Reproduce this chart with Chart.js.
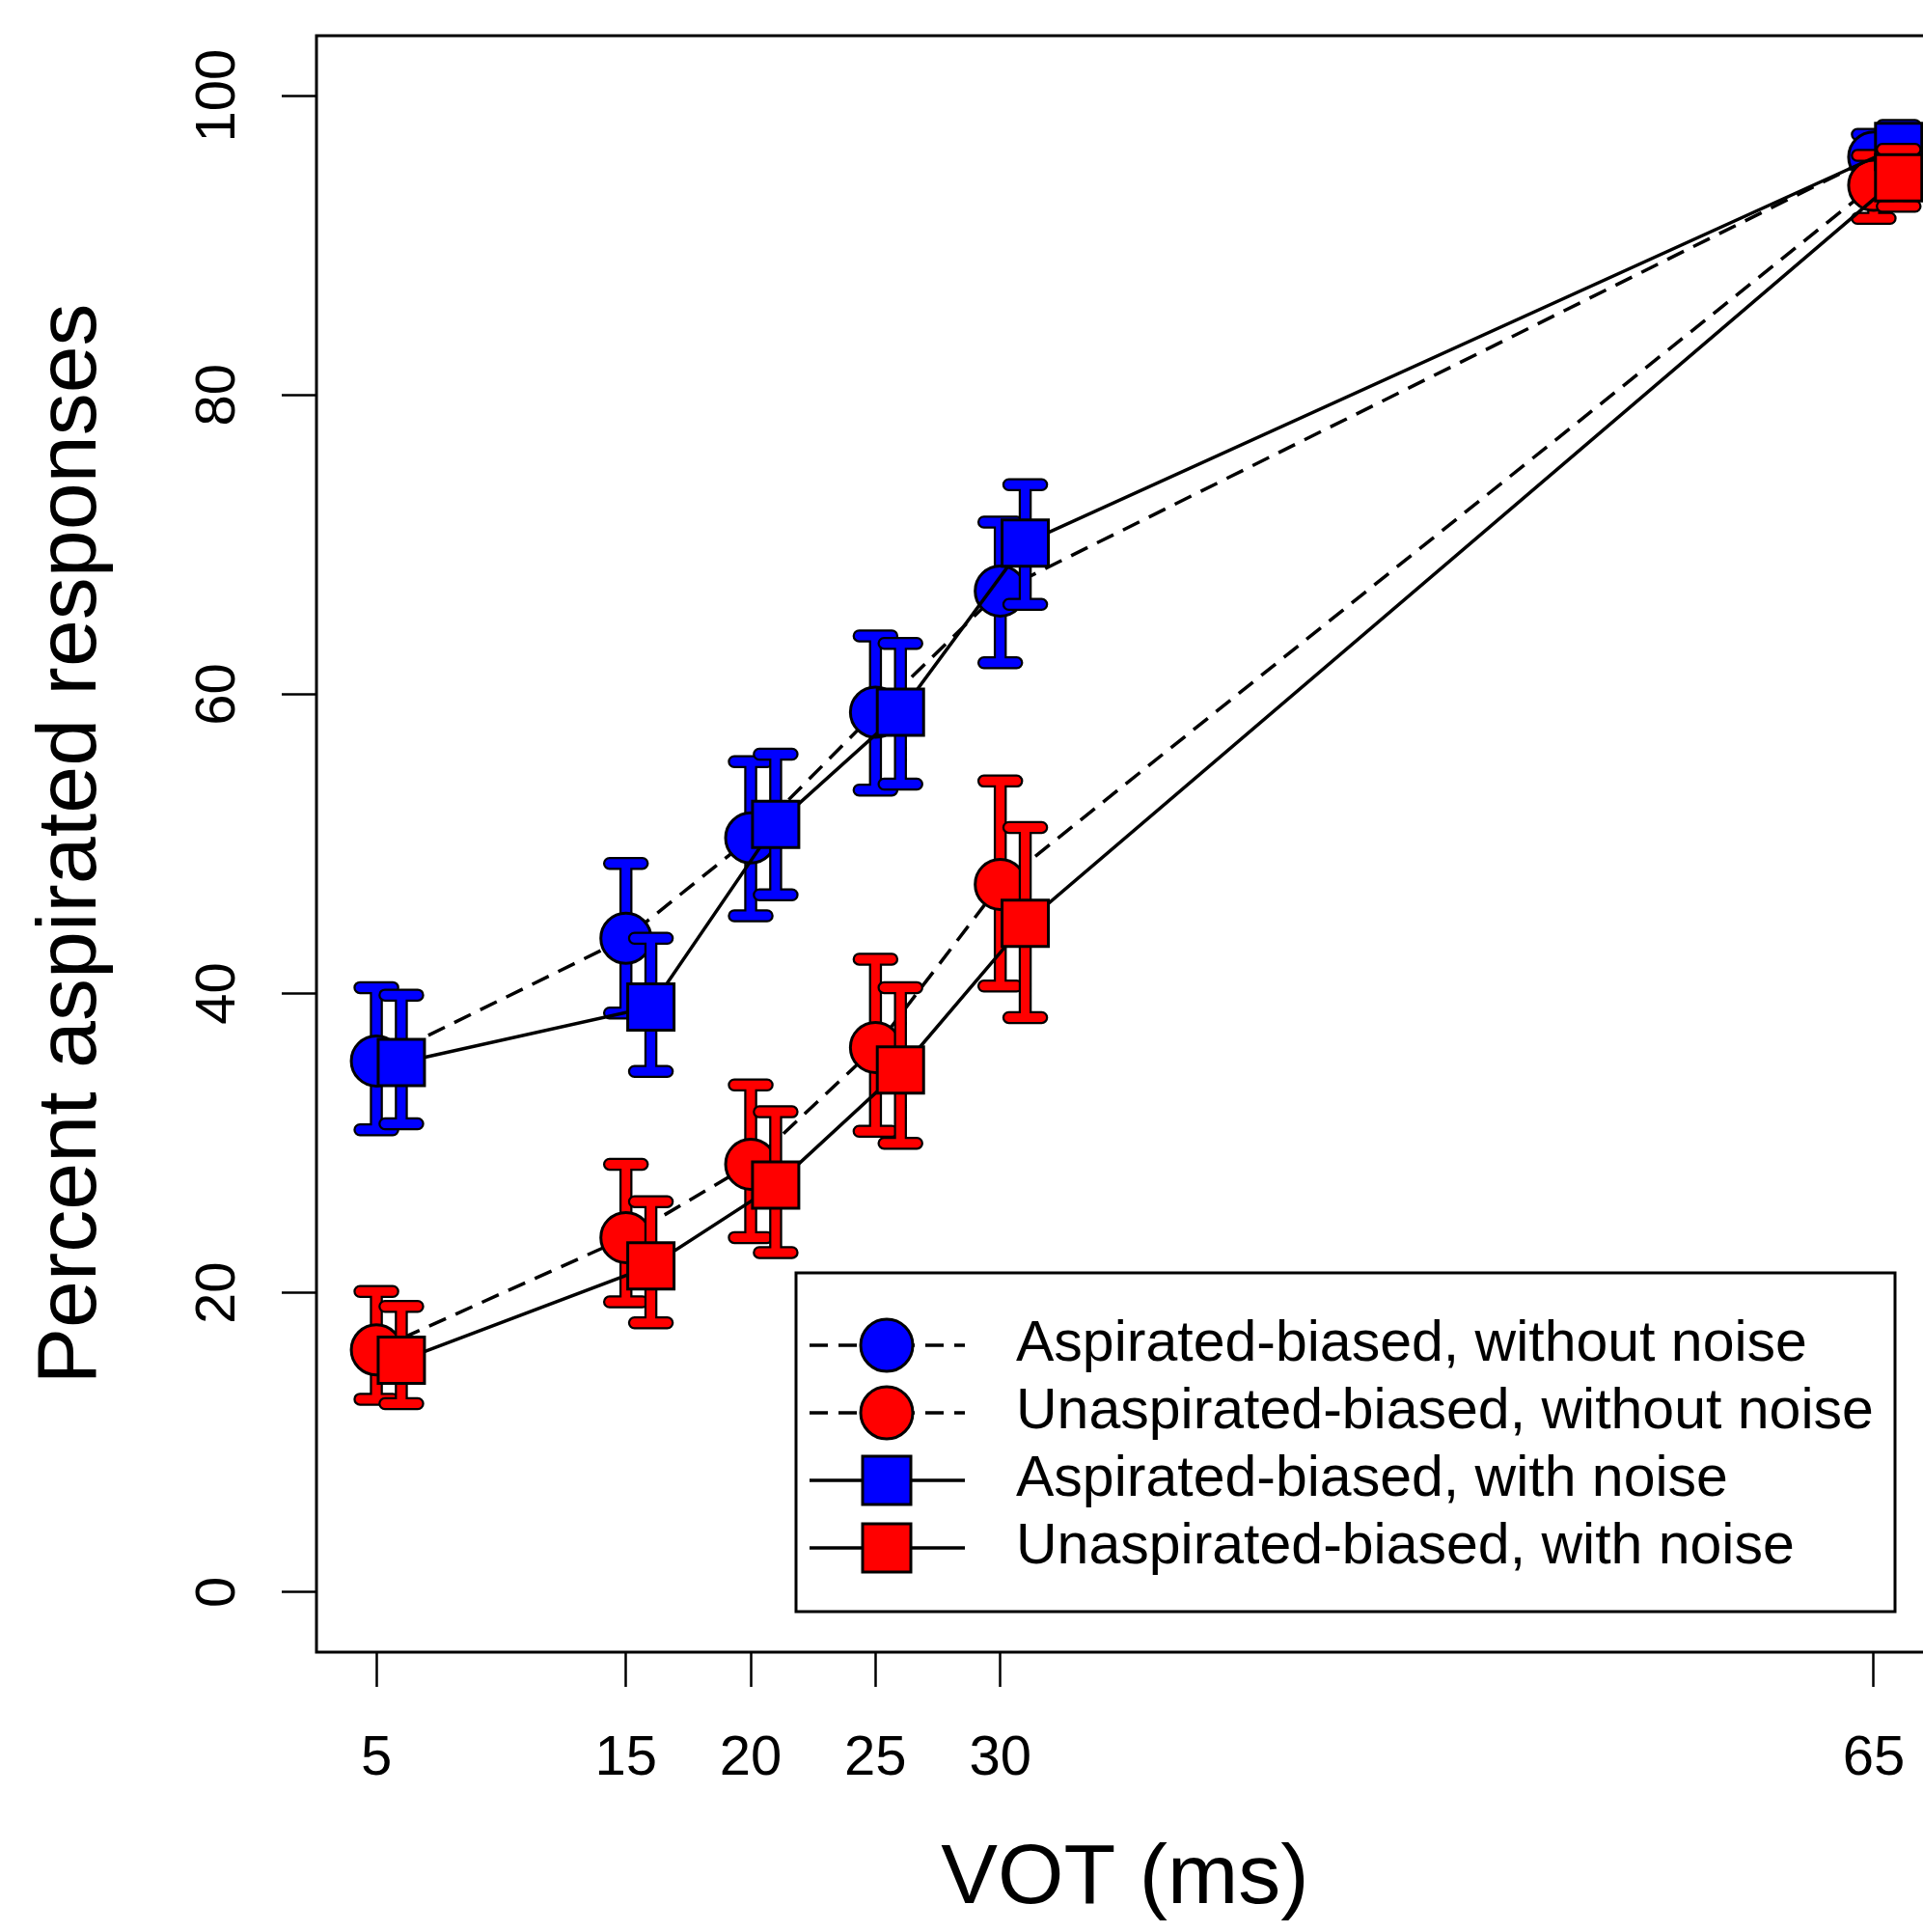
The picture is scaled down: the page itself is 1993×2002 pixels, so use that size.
<!DOCTYPE html>
<html>
<head>
<meta charset="utf-8">
<title>VOT identification</title>
<script src="https://cdn.jsdelivr.net/npm/chart.js@4.4.1/dist/chart.umd.min.js"></script>
<style>
  html, body { margin: 0; padding: 0; background: #fff; overflow: hidden; }
  canvas { display: block; }
</style>
</head>
<body>
<canvas id="votChart" width="2010" height="2002"></canvas>
<script>
// VOT continuum steps (ms)
const vot = [5, 15, 20, 25, 30, 65];
// "with noise" points sit a little to the right so the bars don't hide each other
const noiseShift = 1;

const xTicks = [5, 15, 20, 25, 30, 65];
const yTicks = [0, 20, 40, 60, 80, 100];

// Percent aspirated responses (mean, lower and upper end of error bar)
const aspQuiet = [35.5, 43.7, 50.4, 58.8, 66.9, 95.9];
const aspQuietLow = [30.9, 38.7, 45.2, 53.6, 62.1, 94.6];
const aspQuietHigh = [40.4, 48.7, 55.5, 63.9, 71.5, 97.4];

const unaspQuiet = [16.2, 23.7, 28.6, 36.4, 47.3, 94.0];
const unaspQuietLow = [12.9, 19.4, 23.7, 30.8, 40.5, 91.8];
const unaspQuietHigh = [20.1, 28.6, 33.9, 42.3, 54.2, 96.0];

const aspNoise = [35.4, 39.1, 51.3, 58.8, 70.1, 96.6];
const aspNoiseLow = [31.3, 34.8, 46.6, 54.0, 66.0, 95.2];
const aspNoiseHigh = [39.9, 43.7, 56.0, 63.4, 74.0, 98.0];

const unaspNoise = [15.5, 21.8, 27.2, 34.9, 44.7, 94.5];
const unaspNoiseLow = [12.6, 18.0, 22.7, 30.0, 38.4, 92.6];
const unaspNoiseHigh = [19.1, 26.1, 32.1, 40.4, 51.1, 96.4];

const seriesLabels = [
    "Aspirated-biased, without noise",
    "Unaspirated-biased, without noise",
    "Aspirated-biased, with noise",
    "Unaspirated-biased, with noise"
];

const BLUE = "#0000ff";
const RED = "#ff0000";
const FONT = '"Liberation Sans", Arial, Helvetica, sans-serif';
const CIRCLE_R = 26;
const SQUARE_R = 24 / Math.SQRT1_2; // chart.js rect half side = r * sqrt(1/2)
const DASH = [19, 11];

Chart.defaults.font.family = FONT;
Chart.defaults.color = "#000";

function pts(xs, ys, shift) {
    return xs.map((v, i) => ({ x: v + shift, y: ys[i] }));
}

function makeSeries(label, ys, lo, hi, color, shape, dashed, order) {
    const square = shape === "rect";
    return {
        label: label,
        data: pts(vot, ys, square ? noiseShift : 0),
        errLow: lo,
        errHigh: hi,
        borderColor: "#000",
        borderWidth: 3.5,
        borderDash: dashed ? DASH : [],
        pointStyle: shape,
        pointRadius: square ? SQUARE_R : CIRCLE_R,
        pointHoverRadius: square ? SQUARE_R : CIRCLE_R,
        pointBackgroundColor: color,
        pointBorderColor: "#000",
        pointBorderWidth: 3,
        tension: 0,
        fill: false,
        clip: false,
        order: order
    };
}

// error bars: black outline first, then the coloured bar on top
const errorBars = {
    id: "errorBars",
    beforeDatasetDraw(chart, args) {
        const ds = chart.data.datasets[args.index];
        if (!ds.errLow) return;
        const { ctx, scales: { x, y } } = chart;
        const half = 17;
        const tracePath = () => {
            ctx.beginPath();
            ds.data.forEach((p, i) => {
                const px = x.getPixelForValue(p.x);
                const lo = y.getPixelForValue(ds.errLow[i]);
                const hi = y.getPixelForValue(ds.errHigh[i]);
                ctx.moveTo(px, lo); ctx.lineTo(px, hi);
                ctx.moveTo(px - half, lo); ctx.lineTo(px + half, lo);
                ctx.moveTo(px - half, hi); ctx.lineTo(px + half, hi);
            });
        };
        ctx.save();
        ctx.lineCap = "round";
        ctx.lineJoin = "round";
        tracePath();
        ctx.strokeStyle = "#000";
        ctx.lineWidth = 13.5;
        ctx.stroke();
        tracePath();
        ctx.strokeStyle = ds.pointBackgroundColor;
        ctx.lineWidth = 9;
        ctx.stroke();
        ctx.restore();
    }
};

function drawMarker(ctx, ds, cx, cy, grow) {
    ctx.save();
    ctx.fillStyle = ds.pointBackgroundColor;
    ctx.strokeStyle = "#000";
    ctx.lineWidth = 3;
    ctx.setLineDash([]);
    ctx.beginPath();
    if (ds.pointStyle === "rect") {
        const h = ds.pointRadius * Math.SQRT1_2 + grow;
        ctx.rect(cx - h, cy - h, 2 * h, 2 * h);
    } else {
        ctx.arc(cx, cy, ds.pointRadius + grow, 0, Math.PI * 2);
    }
    ctx.fill();
    ctx.stroke();
    ctx.restore();
}

// plot box, rotated y tick labels and the R-style legend
const frameAndLegend = {
    id: "frameAndLegend",
    afterDraw(chart) {
        const { ctx, chartArea: area } = chart;
        const yScale = chart.scales.y;

        ctx.save();
        ctx.strokeStyle = "#000";
        ctx.lineWidth = 3;
        ctx.strokeRect(area.left, area.top, area.right - area.left, area.bottom - area.top);

        ctx.font = "58px " + FONT;
        ctx.fillStyle = "#000";
        ctx.textAlign = "center";
        ctx.textBaseline = "alphabetic";
        yScale.ticks.forEach(t => {
            const py = yScale.getPixelForValue(t.value);
            ctx.save();
            ctx.translate(yScale.right - 85, py);
            ctx.rotate(-Math.PI / 2);
            ctx.fillText(String(t.value), 0, 0);
            ctx.restore();
        });

        // legend
        const w = 1139, h = 351;
        const left = area.right - 40 - w;
        const top = area.bottom - 42 - h;
        ctx.fillStyle = "#fff";
        ctx.fillRect(left, top, w, h);
        ctx.strokeRect(left, top, w, h);

        chart.data.datasets.forEach((ds, i) => {
            const rowY = top + 75 + 70 * i;
            ctx.save();
            ctx.lineWidth = 3.5;
            ctx.strokeStyle = "#000";
            ctx.setLineDash(ds.borderDash);
            ctx.beginPath();
            ctx.moveTo(left + 14, rowY);
            ctx.lineTo(left + 175, rowY);
            ctx.stroke();
            ctx.restore();
            drawMarker(ctx, ds, left + 94, rowY, 1);

            ctx.font = "59px " + FONT;
            ctx.fillStyle = "#000";
            ctx.textAlign = "left";
            ctx.textBaseline = "middle";
            ctx.fillText(ds.label, left + 228, rowY);
        });
        ctx.restore();
    }
};

const ctx = document.getElementById("votChart").getContext("2d");

new Chart(ctx, {
    type: "line",
    data: {
        datasets: [
            makeSeries(seriesLabels[0], aspQuiet, aspQuietLow, aspQuietHigh, BLUE, "circle", true, 4),
            makeSeries(seriesLabels[1], unaspQuiet, unaspQuietLow, unaspQuietHigh, RED, "circle", true, 3),
            makeSeries(seriesLabels[2], aspNoise, aspNoiseLow, aspNoiseHigh, BLUE, "rect", false, 2),
            makeSeries(seriesLabels[3], unaspNoise, unaspNoiseLow, unaspNoiseHigh, RED, "rect", false, 1)
        ]
    },
    options: {
        responsive: false,
        animation: false,
        events: [],
        layout: {
            autoPadding: false,
            padding: { left: 0, top: 37, right: 6, bottom: 0 }
        },
        plugins: {
            legend: { display: false },
            tooltip: { enabled: false }
        },
        scales: {
            x: {
                type: "linear",
                min: 2.6,
                max: 67.4,
                afterBuildTicks: s => { s.ticks = xTicks.map(v => ({ value: v })); },
                afterFit: s => {
                    s.height = 290;
                    s.paddingLeft = 0;
                    s.paddingRight = 0;
                },
                ticks: {
                    autoSkip: false,
                    maxRotation: 0,
                    padding: 40,
                    font: { size: 58 },
                    color: "#000"
                },
                grid: {
                    drawOnChartArea: false,
                    drawTicks: true,
                    tickLength: 36,
                    tickWidth: 2.5,
                    tickColor: "#000"
                },
                border: { display: false },
                title: {
                    display: true,
                    text: "VOT (ms)",
                    font: { size: 88, weight: "normal" },
                    color: "#000",
                    padding: { top: 0, bottom: 1 }
                }
            },
            y: {
                type: "linear",
                min: -4,
                max: 104,
                afterBuildTicks: s => { s.ticks = yTicks.map(v => ({ value: v })); },
                afterFit: s => {
                    s.width = 328;
                    s.paddingTop = 0;
                    s.paddingBottom = 0;
                },
                ticks: { display: false },
                grid: {
                    drawOnChartArea: false,
                    drawTicks: true,
                    tickLength: 36,
                    tickWidth: 2.5,
                    tickColor: "#000"
                },
                border: { display: false },
                title: {
                    display: true,
                    text: "Percent aspirated responses",
                    font: { size: 88, weight: "normal" },
                    color: "#000",
                    padding: { top: 22, bottom: 0 }
                }
            }
        }
    },
    plugins: [errorBars, frameAndLegend]
});
</script>
</body>
</html>
